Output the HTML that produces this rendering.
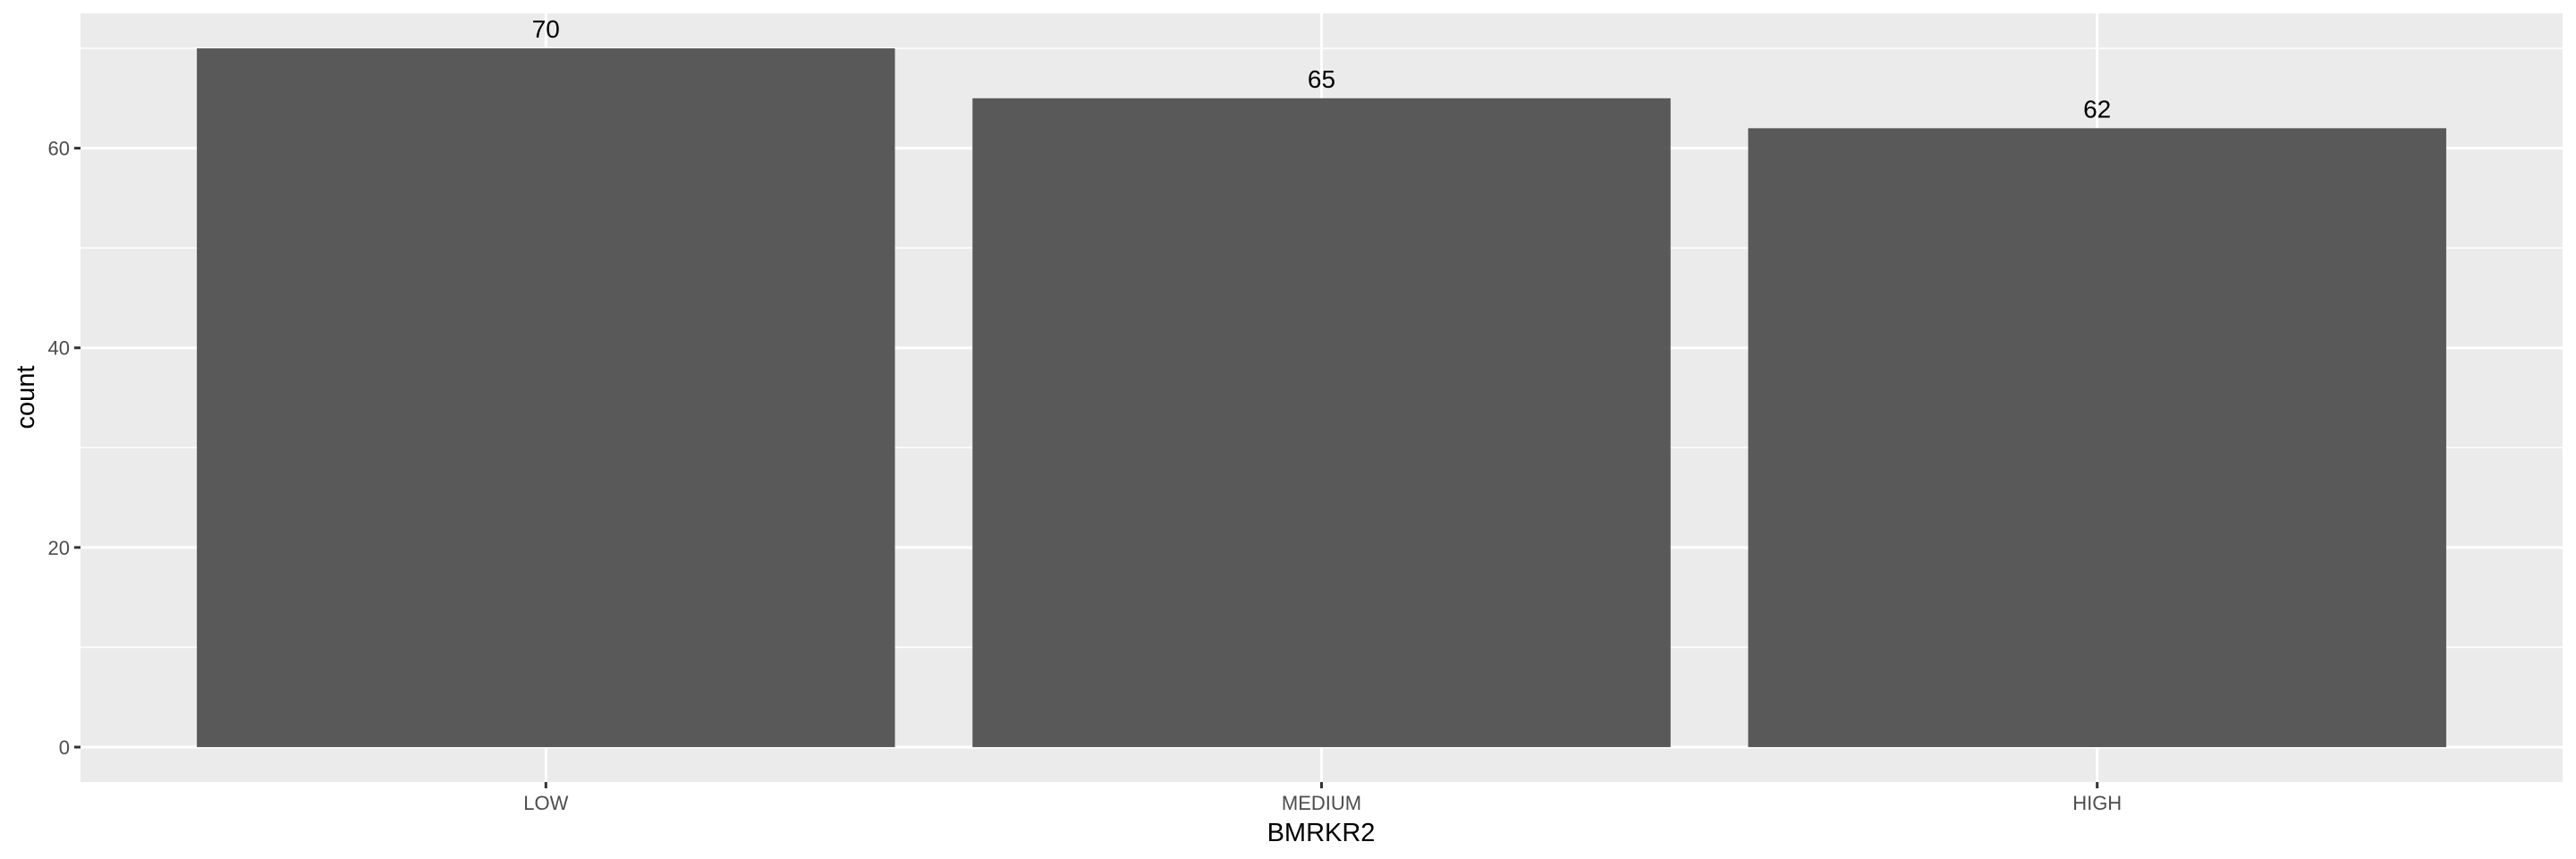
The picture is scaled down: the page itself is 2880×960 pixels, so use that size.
<!DOCTYPE html>
<html><head><meta charset="utf-8"><style>
body{margin:0;background:#fff}
svg{display:block;font-family:"Liberation Sans",sans-serif}
</style></head><body>
<svg id="chart" width="2880" height="960">
<rect x="90" y="15" width="2775" height="859" fill="#ebebeb"/>
<g id="grid"></g><g id="bars"></g><g id="axes"></g>
<text x="1477" y="940" font-size="29" text-anchor="middle" fill="#000">BMRKR2</text>
<text transform="translate(38,444) rotate(-90)" font-size="29" text-anchor="middle" fill="#000">count</text>
</svg>
<script>
const categories=["LOW","MEDIUM","HIGH"];
const counts=[70,65,62];
const yTicks=[0,20,40,60];
const ns="http://www.w3.org/2000/svg";
const L=90,R=2865,T=15,B=874;
const yMax=Math.max(...counts)*1.05, yMin=-Math.max(...counts)*0.05;
const y=v=>B-(v-yMin)/(yMax-yMin)*(B-T);
const bw=(R-L)/(categories.length+0.2);
const x=i=>L+(i+0.6)*bw;
function mk(tag,attrs,parent){const e=document.createElementNS(ns,tag);for(const k in attrs)e.setAttribute(k,attrs[k]);document.getElementById(parent).appendChild(e);return e;}
const minor=[];for(let i=0;i<yTicks.length-1;i++)minor.push((yTicks[i]+yTicks[i+1])/2);
minor.push(yTicks[yTicks.length-1]+(yTicks[1]-yTicks[0])/2);
minor.forEach(v=>{if(y(v)<T)return;const l=mk('line',{x1:L,x2:R,y1:y(v),y2:y(v),stroke:'#fff','stroke-width':1.5},'grid');

});
yTicks.forEach(v=>{const l=mk('line',{x1:L,x2:R,y1:y(v),y2:y(v),stroke:'#fff','stroke-width':3},'grid');


const t=mk('line',{x1:L-7,x2:L,y1:y(v),y2:y(v),stroke:'#333','stroke-width':3},'axes');


const tx=mk('text',{x:L-12,y:y(v)+8,'font-size':22,'text-anchor':'end',fill:'#4d4d4d'},'axes');tx.textContent=v;

});
categories.forEach((c,i)=>{const g=mk('line',{x1:x(i),x2:x(i),y1:T,y2:B,stroke:'#fff','stroke-width':3},'grid');


const b=mk('rect',{x:x(i)-bw*0.45,y:y(counts[i]),width:bw*0.9,height:y(0)-y(counts[i]),fill:'#595959'},'bars');


const lb=mk('text',{x:x(i),y:y(counts[i])-12,'font-size':28,'text-anchor':'middle',fill:'#000'},'bars');lb.textContent=counts[i];


const t=mk('line',{x1:x(i),x2:x(i),y1:B,y2:B+7,stroke:'#333','stroke-width':3},'axes');


const tx=mk('text',{x:x(i),y:B+31,'font-size':22,'text-anchor':'middle',fill:'#4d4d4d'},'axes');tx.textContent=c;

});
</script>
</body></html>
